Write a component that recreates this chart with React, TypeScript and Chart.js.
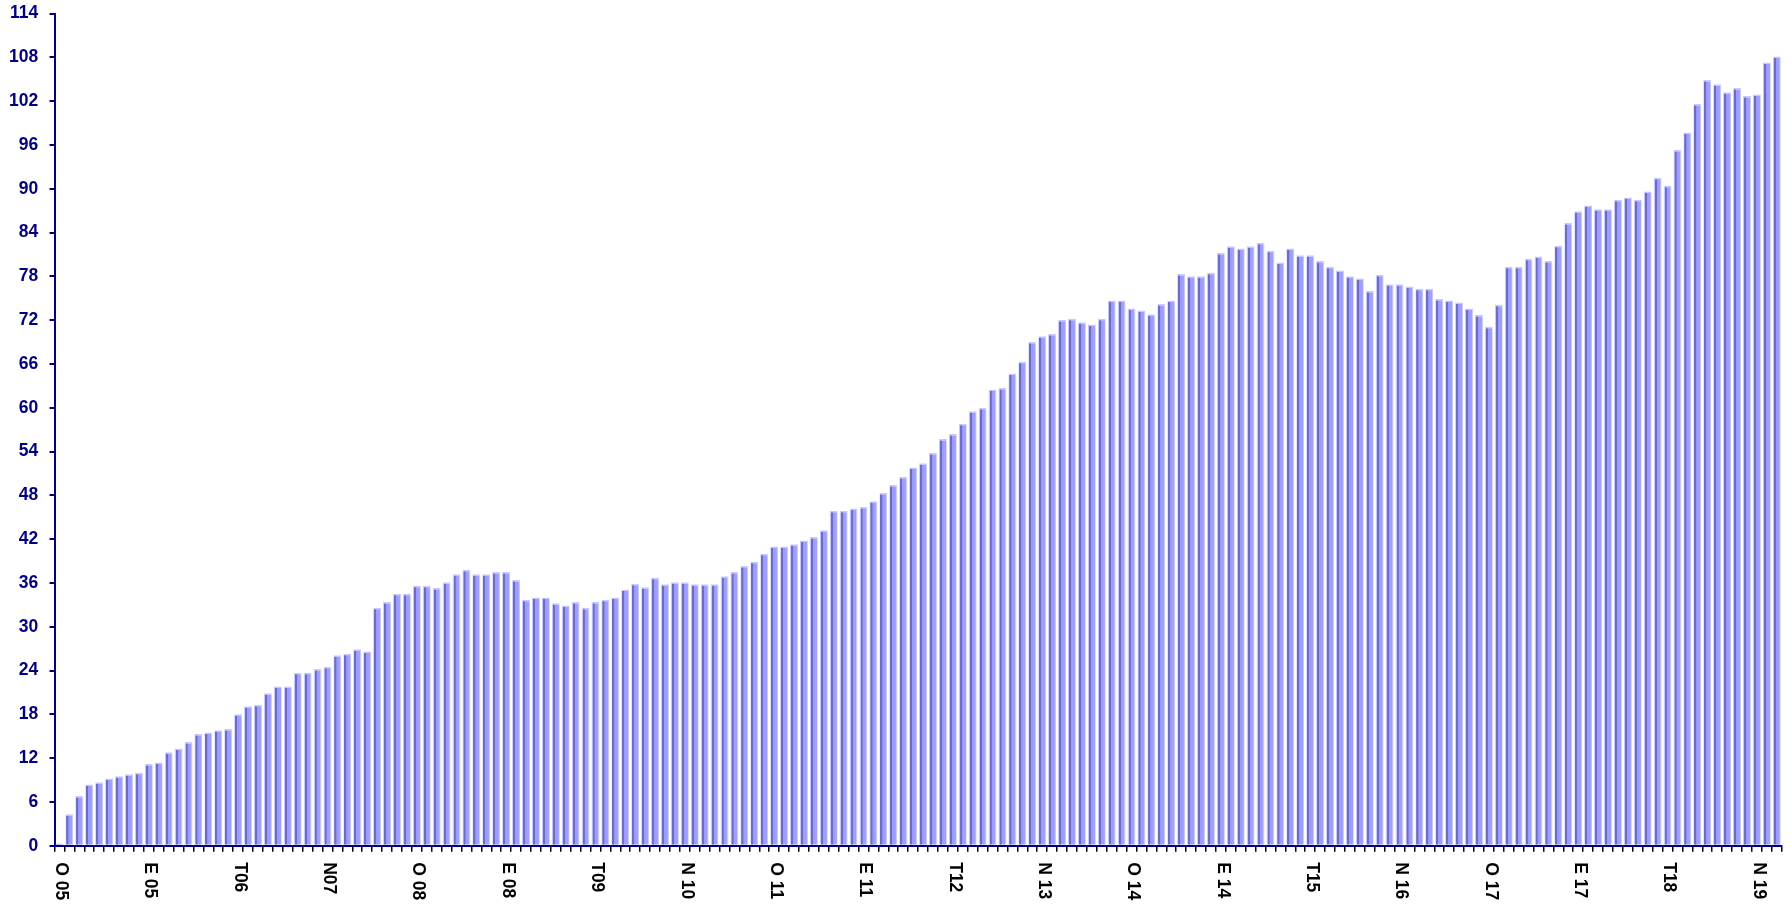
import React, { useEffect, useRef } from "react";
import { Chart, registerables } from "chart.js";

Chart.register(...registerables);

// Tick labels shown every `labelEvery` categories
const tickLabels: string[] = [
  "O 05", "E 05", "T06", "N07", "O 08", "E 08", "T09", "N 10", "O 11", "E 11",
  "T12", "N 13", "O 14", "E 14", "T15", "N 16", "O 17", "E 17", "T18", "N 19",
];
const labelEvery = 9;

// Series values (one per bar)
const values: number[] = [
  0.3, 4.3, 6.8, 8.4, 8.7, 9.2, 9.5, 9.8, 10.0, 11.2,
  11.4, 12.8, 13.3, 14.2, 15.3, 15.5, 15.8, 16.0, 18.0, 19.1,
  19.3, 20.9, 21.8, 21.8, 23.7, 23.7, 24.2, 24.5, 26.1, 26.3,
  26.9, 26.6, 32.6, 33.4, 34.5, 34.5, 35.6, 35.6, 35.3, 36.1,
  37.2, 37.8, 37.2, 37.2, 37.5, 37.5, 36.4, 33.7, 34.0, 34.0,
  33.2, 32.9, 33.4, 32.6, 33.4, 33.7, 34.0, 35.1, 35.9, 35.4,
  36.7, 35.8, 36.1, 36.1, 35.8, 35.8, 35.8, 36.9, 37.5, 38.3,
  38.9, 40.0, 41.0, 41.0, 41.3, 41.8, 42.3, 43.2, 45.9, 45.9,
  46.2, 46.4, 47.2, 48.3, 49.4, 50.5, 51.8, 52.4, 53.8, 55.7,
  56.4, 57.8, 59.5, 60.0, 62.5, 62.7, 64.7, 66.3, 69.0, 69.8,
  70.1, 72.0, 72.2, 71.7, 71.4, 72.2, 74.7, 74.7, 73.6, 73.3,
  72.8, 74.2, 74.7, 78.3, 78.0, 78.0, 78.5, 81.2, 82.1, 81.8,
  82.1, 82.6, 81.5, 79.9, 81.8, 80.9, 80.9, 80.1, 79.3, 78.8,
  78.0, 77.7, 76.0, 78.2, 76.9, 76.9, 76.6, 76.3, 76.3, 74.9,
  74.7, 74.4, 73.6, 72.7, 71.1, 74.1, 79.3, 79.3, 80.4, 80.7,
  80.1, 82.2, 85.3, 86.9, 87.7, 87.2, 87.2, 88.5, 88.8, 88.5,
  89.6, 91.5, 90.4, 95.3, 97.7, 101.6, 104.9, 104.3, 103.2, 103.8,
  102.7, 102.9, 107.3, 108.1,
];

const categories: string[] = values.map((_, i) =>
  i % labelEvery === 0 ? tickLabels[i / labelEvery] ?? "" : ""
);

const FONT = "'Liberation Sans', Arial, Helvetica, sans-serif";
const NAVY = "#000080";
const BAR_PCT = 0.8;

const xLabelPlugin = {
  id: "xLabelsRotated",
  afterDraw(chart: any) {
    const xs = chart.scales.x;
    const ctx = chart.ctx;
    ctx.save();
    ctx.fillStyle = "#000000";
    ctx.font = `bold 17.5px ${FONT}`;
    ctx.textAlign = "left";
    ctx.textBaseline = "middle";
    categories.forEach((lab, i) => {
      if (!lab) return;
      const x = xs.getPixelForValue(i) + 1.5;
      ctx.save();
      ctx.translate(x, chart.chartArea.bottom + 16.5);
      ctx.rotate(Math.PI / 2);
      ctx.fillText(lab, 0, 0);
      ctx.restore();
    });
    ctx.restore();
  },
};

export default function App() {
  const canvasRef = useRef<HTMLCanvasElement | null>(null);

  useEffect(() => {
    if (!canvasRef.current) return;
    const chart = new Chart(canvasRef.current, {
      type: "bar",
      data: {
        labels: categories,
        datasets: [
          {
            data: values,
            backgroundColor: (c: any) => {
              const ch = c.chart;
              const xs = ch.scales && ch.scales.x;
              if (!xs || c.type !== "data" || !xs.width) return "#9a9aff";
              const cx = xs.getPixelForValue(c.dataIndex);
              const w = (xs.width / values.length) * BAR_PCT;
              const g = ch.ctx.createLinearGradient(cx - w / 2, 0, cx + w / 2, 0);
              g.addColorStop(0, "#c8c8ff");
              g.addColorStop(0.12, "#c8c8ff");
              g.addColorStop(0.14, "#6c6cc0");
              g.addColorStop(0.36, "#6c6cc0");
              g.addColorStop(0.4, "#9a9aff");
              g.addColorStop(0.84, "#a2a2ff");
              g.addColorStop(0.87, "#c8c8ff");
              g.addColorStop(1, "#c8c8ff");
              return g;
            },
            borderColor: "#c8c8ff",
            borderWidth: { top: 1.5, left: 0, right: 0, bottom: 0 },
            categoryPercentage: 1,
            barPercentage: BAR_PCT,
          },
        ],
      },
      options: {
        responsive: true,
        maintainAspectRatio: false,
        animation: false,
        layout: { padding: { left: 8, top: 13.5, right: 9.3, bottom: 0 } },
        plugins: {
          legend: { display: false },
          tooltip: { enabled: false },
          title: { display: false },
        },
        scales: {
          x: {
            type: "category",
            offset: true,
            ticks: { display: false },
            grid: {
              display: true,
              offset: true,
              drawOnChartArea: false,
              drawTicks: true,
              tickLength: 6,
              color: "#000000",
              lineWidth: 1.5,
            },
            border: { display: true, color: NAVY, width: 2 },
            afterFit: (s: any) => {
              s.height = 905 - 845.7;
              s.paddingLeft = 0;
              s.paddingRight = 0;
            },
          },
          y: {
            min: 0,
            max: 114,
            ticks: {
              stepSize: 6,
              color: NAVY,
              padding: 11.2,
              font: { family: FONT, weight: "bold", size: 17.5 },
            },
            grid: {
              display: true,
              drawOnChartArea: false,
              drawTicks: true,
              tickLength: 5,
              color: NAVY,
              lineWidth: 2,
            },
            border: { display: true, color: NAVY, width: 2 },
            afterFit: (s: any) => {
              s.width = 46.5;
              s.paddingTop = 0;
              s.paddingBottom = 0;
            },
          },
        },
      },
      plugins: [xLabelPlugin],
    } as any);
    return () => chart.destroy();
  }, []);

  return (
    <div
      style={{
        position: "fixed",
        left: 0,
        top: 0,
        width: 1791,
        height: 905,
        background: "#ffffff",
      }}
    >
      <canvas ref={canvasRef} />
    </div>
  );
}
